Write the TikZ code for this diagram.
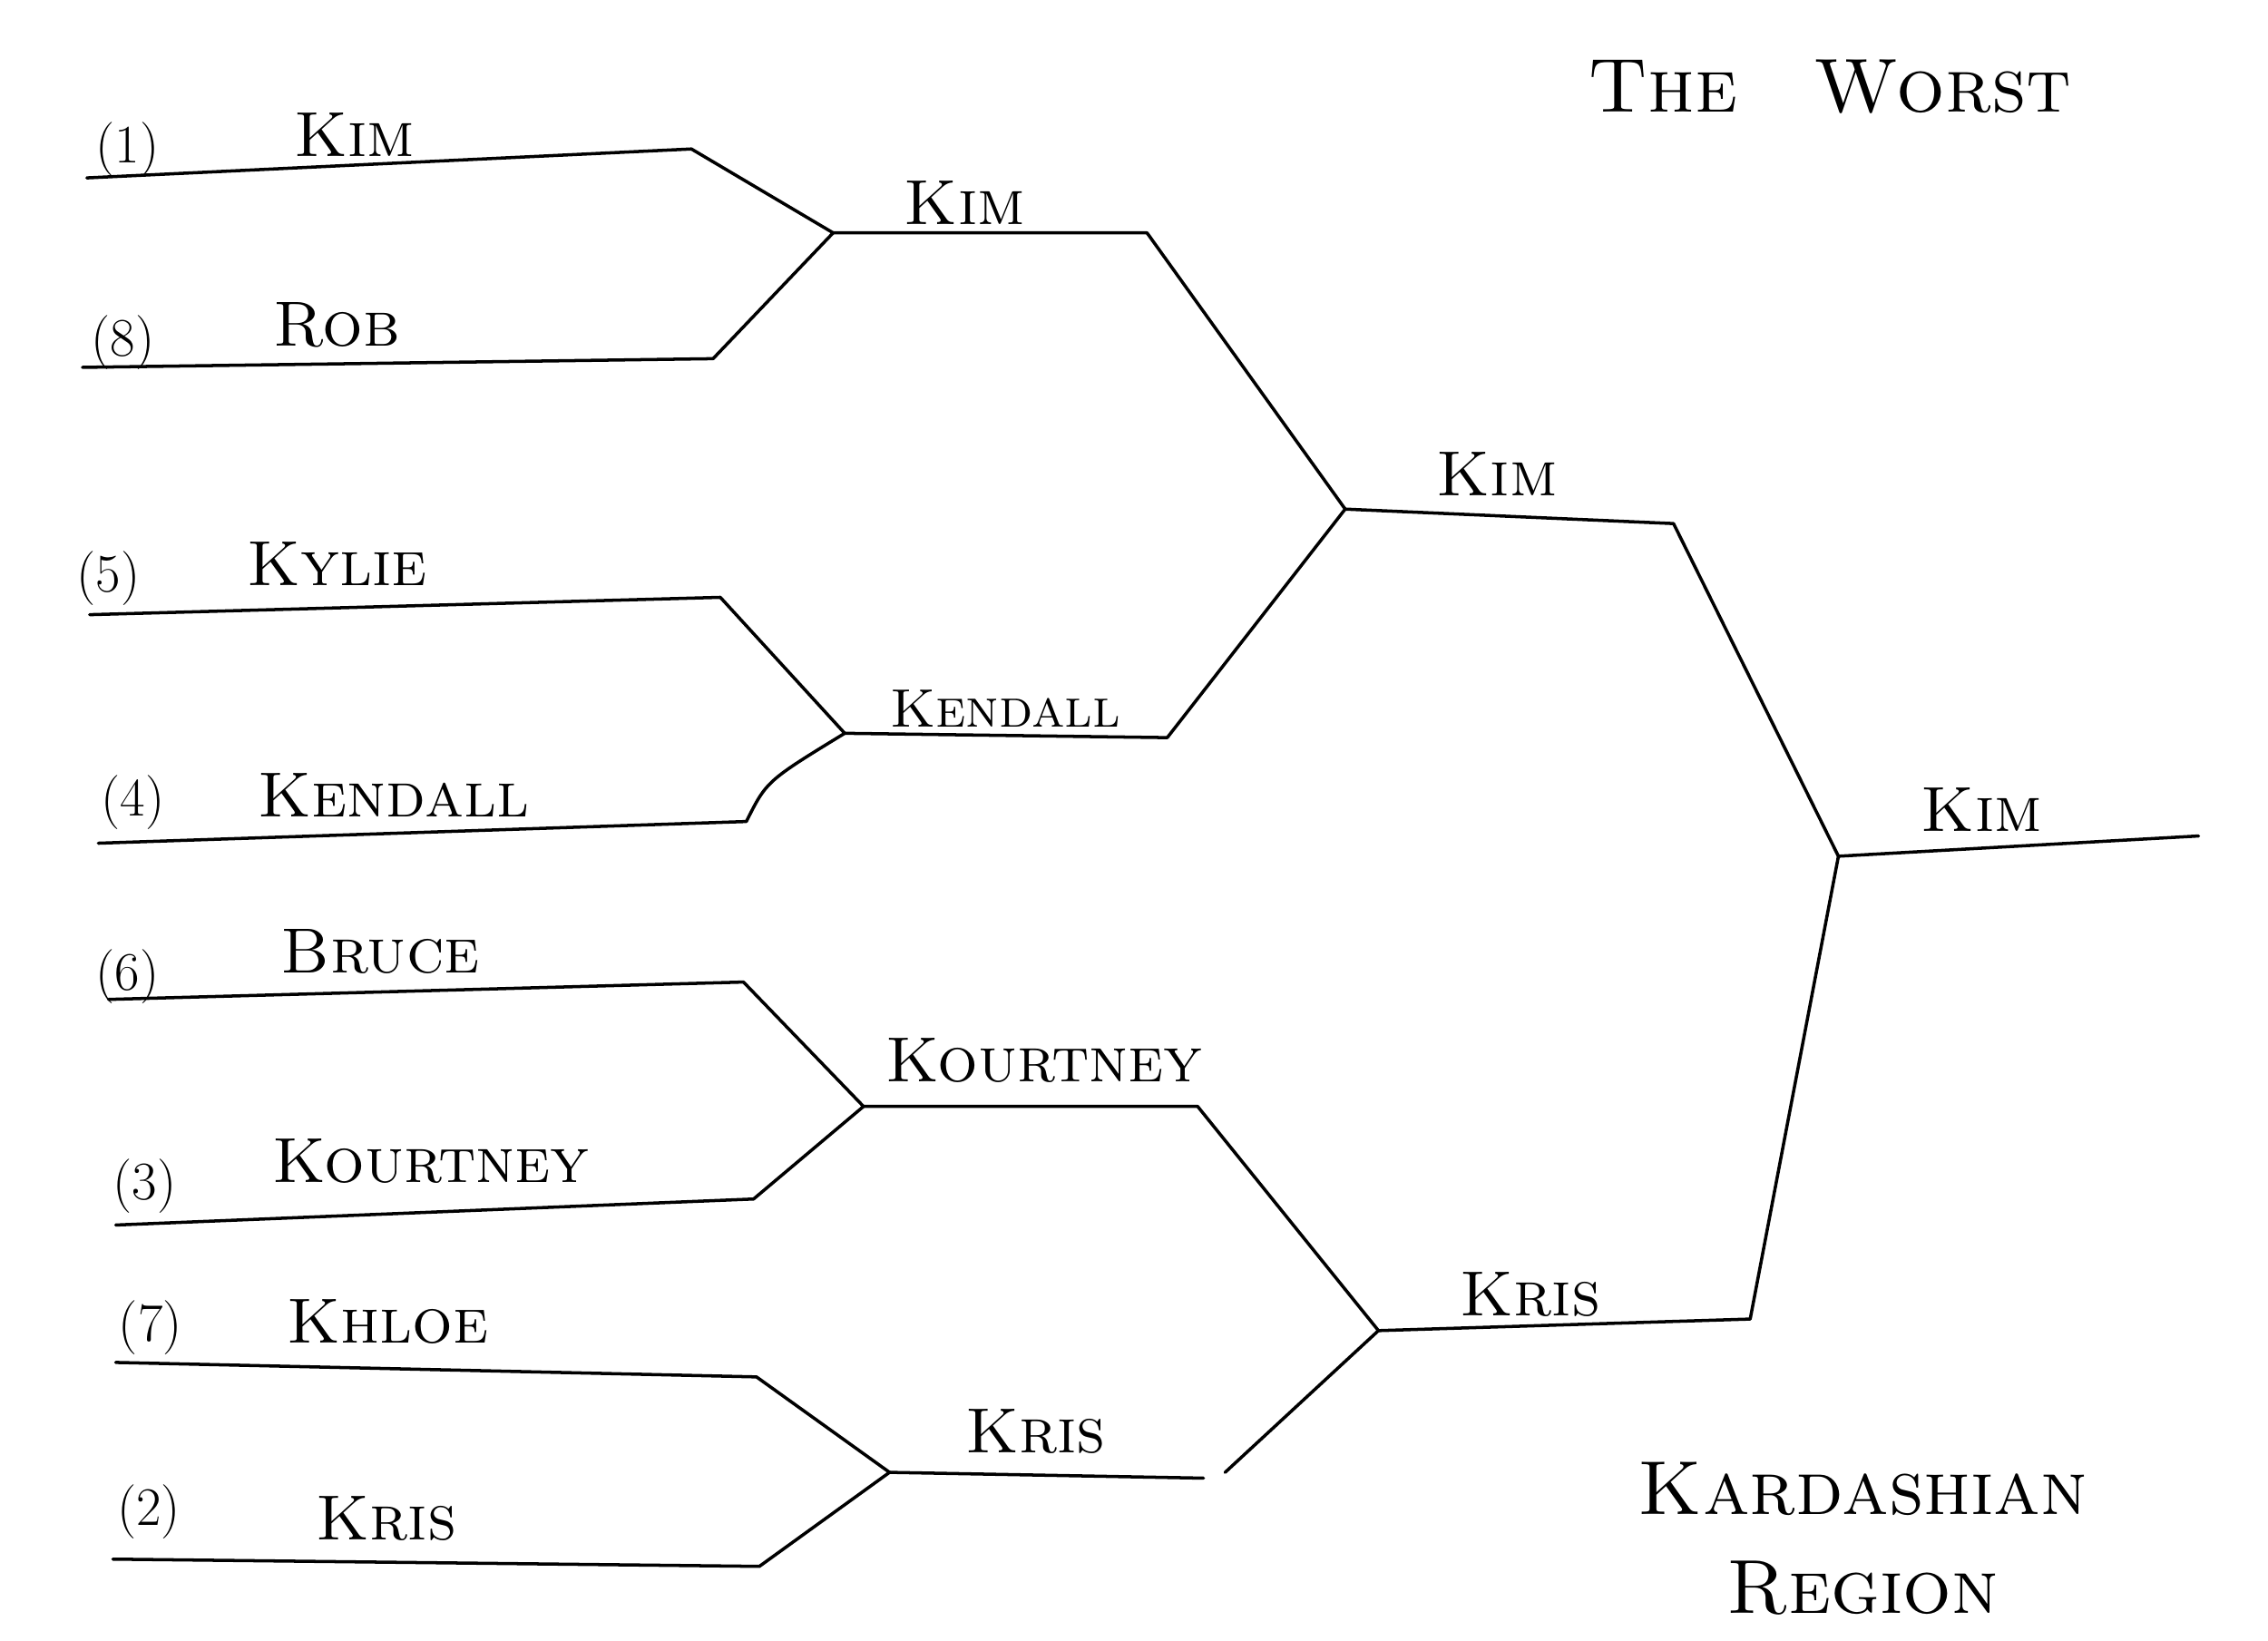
\documentclass[tikz,border=0pt]{standalone}
\usetikzlibrary{positioning}

\begin{document}
\begin{tikzpicture}[
    x = 0.01594cm, y = -0.01594cm,
    namelabel/.style = {
      inner sep = 0pt,
      font = \fontsize{20}{24}\selectfont\scshape
    },
    seedlabel/.style = {
      inner sep = 0pt,
      font = \fontsize{17}{20}\selectfont
    },
    titlelabel/.style = {
      inner sep = 0pt, align = center,
      font = \fontsize{24}{31}\selectfont\scshape
    },
    bline/.style = {line width = 1pt, line join = round, line cap = round}
  ]

  \useasboundingbox (0,0) rectangle (1568,1134);

  % Bracket points
  \coordinate (s1) at (60,123);   \coordinate (e1) at (478,103);
  \coordinate (s8) at (57,254);   \coordinate (e8) at (493,248);
  \coordinate (s5) at (62,425);   \coordinate (e5) at (498,413);
  \coordinate (s4) at (68,583);   \coordinate (e4) at (516,568);
  \coordinate (s6) at (75,691);   \coordinate (e6) at (514,679);
  \coordinate (s3) at (80,847);   \coordinate (e3) at (521,829);
  \coordinate (s7) at (80,942);   \coordinate (e7) at (523,952);
  \coordinate (s2) at (78,1078);  \coordinate (e2) at (525,1083);

  \coordinate (jkr) at (576,161);
  \coordinate (jkk) at (584,507);
  \coordinate (jbk) at (597,765);
  \coordinate (jkk2) at (615,1018);

  \coordinate (ekim) at (793,161);
  \coordinate (eken) at (807,510);
  \coordinate (ekou) at (828,765);
  \coordinate (ekri) at (832,1022);
  \coordinate (gkri) at (847,1018);

  \coordinate (jtop) at (930,352);
  \coordinate (jbot) at (953,920);
  \coordinate (etop) at (1157,362);
  \coordinate (ebot) at (1210,912);

  \coordinate (jfin) at (1271,592);
  \coordinate (efin) at (1520,578);

  % First round
  \draw[bline] (s1) -- (e1) -- (jkr);
  \draw[bline] (s8) -- (e8) -- (jkr);
  \draw[bline] (s5) -- (e5) -- (jkk);
  \draw[bline] (s4) -- (e4) .. controls (530,540) .. (jkk);
  \draw[bline] (s6) -- (e6) -- (jbk);
  \draw[bline] (s3) -- (e3) -- (jbk);
  \draw[bline] (s7) -- (e7) -- (jkk2);
  \draw[bline] (s2) -- (e2) -- (jkk2);

  % Second round
  \draw[bline] (jkr) -- (ekim) -- (jtop);
  \draw[bline] (jkk) -- (eken) -- (jtop);
  \draw[bline] (jbk) -- (ekou) -- (jbot);
  \draw[bline] (jkk2) -- (ekri);
  \draw[bline] (gkri) -- (jbot);

  % Third round and final
  \draw[bline] (jtop) -- (etop) -- (jfin);
  \draw[bline] (jbot) -- (ebot) -- (jfin);
  \draw[bline] (jfin) -- (efin);

  % Seeds
  \node[seedlabel] (seed1) at (88,103)  {(1)};
  \node[seedlabel] (seed8) at (85,237)  {(8)};
  \node[seedlabel] (seed5) at (75,400)  {(5)};
  \node[seedlabel] (seed4) at (92,555)  {(4)};
  \node[seedlabel] (seed6) at (88,675)  {(6)};
  \node[seedlabel] (seed3) at (100,820) {(3)};
  \node[seedlabel] (seed7) at (104,918) {(7)};
  \node[seedlabel] (seed2) at (103,1045) {(2)};

  % Names
  \node[namelabel] (kim)      at (245,93)   {Kim};
  \node[namelabel] (rob)      at (233,225)  {Rob};
  \node[namelabel] (kylie)    at (233,390)  {Kylie};
  \node[namelabel] (kendall)  at (272,550)  {Kendall};
  \node[namelabel] (bruce)    at (263,658)  {Bruce};
  \node[namelabel] (kourtney) at (298,803)  {Kourtney};
  \node[namelabel] (khloe)    at (268,914)  {Khloe};
  \node[namelabel] (kris)     at (267,1050) {Kris};

  \node[namelabel] (kimb)      at (667,140) {Kim};
  \node[namelabel, font = \fontsize{17}{20}\selectfont\scshape] (kendallb) at (695,490) {Kendall};
  \node[namelabel] (kourtneyb) at (722,733) {Kourtney};
  \node[namelabel] (krisb)     at (716,990) {Kris};

  \node[namelabel] (kimc)  at (1035,328) {Kim};
  \node[namelabel] (krisc) at (1058,895) {Kris};

  \node[namelabel] (kimd) at (1370,560) {Kim};

  % Titles
  \node[titlelabel] (worst)  at (1265,60)  {The\quad Worst};
  \node[titlelabel] (region) at (1288,1064) {Kardashian\\Region};

\end{tikzpicture}
\end{document}
